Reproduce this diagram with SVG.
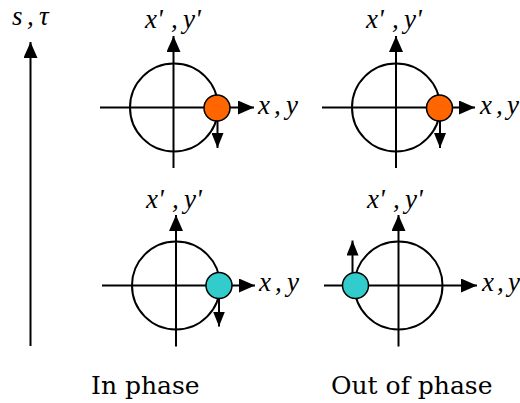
<svg xmlns="http://www.w3.org/2000/svg" width="520" height="403" viewBox="0 0 520 403">
<defs>
<style>
.ax{stroke:#000;stroke-width:2;fill:none}
.ci{stroke:#000;stroke-width:2;fill:none}
.or{fill:#FF6600;stroke:#000;stroke-width:1.5}
.tl{fill:#33CCCC;stroke:#000;stroke-width:1.5}
.it{font-family:"Liberation Serif","Times New Roman",serif;font-style:italic;font-size:27px;fill:#000}
.lb{font-family:"DejaVu Serif","Liberation Serif",serif;font-size:25px;fill:#000}
</style>
<marker id="ah" markerUnits="userSpaceOnUse" markerWidth="16" markerHeight="14" refX="16" refY="7" orient="auto">
<path d="M0,0 L16,7 L0,14 Z" fill="#000"/>
</marker>
<marker id="sh" markerUnits="userSpaceOnUse" markerWidth="15" markerHeight="12" refX="15" refY="6" orient="auto">
<path d="M0,0 L15,6 L0,12 Z" fill="#000"/>
</marker>
</defs>
<rect width="520" height="403" fill="#fff"/>
<g id="time-axis">
<line class="ax" x1="30.5" y1="346" x2="30.5" y2="42" marker-end="url(#ah)"/>
<text class="it" y="25"><tspan x="12">s</tspan><tspan x="27">,</tspan><tspan x="39">τ</tspan></text>
</g>
<g id="panel-top-left">
<circle class="ci" cx="174" cy="107.5" r="44"/>
<line class="ax" x1="100" y1="107.5" x2="254" y2="107.5" marker-end="url(#ah)"/>
<line class="ax" x1="173.5" y1="168" x2="173.5" y2="36" marker-end="url(#ah)"/>
<circle class="or" cx="217" cy="108" r="13"/>
<line class="ax" x1="217.5" y1="121" x2="217.5" y2="148" marker-end="url(#sh)"/>
<text class="it" y="28"><tspan x="145">x'</tspan><tspan x="171">,</tspan><tspan x="183">y'</tspan></text>
<text class="it" y="114"><tspan x="258">x</tspan><tspan x="274">,</tspan><tspan x="286">y</tspan></text>
</g>
<g id="panel-top-right">
<circle class="ci" cx="396" cy="107.5" r="44"/>
<line class="ax" x1="322" y1="107.5" x2="475" y2="107.5" marker-end="url(#ah)"/>
<line class="ax" x1="396" y1="168" x2="396" y2="36" marker-end="url(#ah)"/>
<circle class="or" cx="439.5" cy="108" r="13"/>
<line class="ax" x1="440" y1="121" x2="440" y2="148" marker-end="url(#sh)"/>
<text class="it" y="28"><tspan x="366">x'</tspan><tspan x="392">,</tspan><tspan x="404">y'</tspan></text>
<text class="it" y="114"><tspan x="480">x</tspan><tspan x="496">,</tspan><tspan x="507">y</tspan></text>
</g>
<g id="panel-bottom-left">
<circle class="ci" cx="176" cy="285.5" r="44"/>
<line class="ax" x1="102" y1="285.5" x2="255" y2="285.5" marker-end="url(#ah)"/>
<line class="ax" x1="176" y1="346.5" x2="176" y2="215" marker-end="url(#ah)"/>
<circle class="tl" cx="219" cy="285.5" r="13"/>
<line class="ax" x1="219" y1="298.5" x2="219" y2="326.5" marker-end="url(#sh)"/>
<text class="it" y="208"><tspan x="146">x'</tspan><tspan x="172">,</tspan><tspan x="184">y'</tspan></text>
<text class="it" y="291"><tspan x="259">x</tspan><tspan x="275">,</tspan><tspan x="287">y</tspan></text>
<text class="lb" x="91" y="394">In phase</text>
</g>
<g id="panel-bottom-right">
<circle class="ci" cx="398.5" cy="285.5" r="44"/>
<line class="ax" x1="324" y1="285.5" x2="477" y2="285.5" marker-end="url(#ah)"/>
<line class="ax" x1="398.5" y1="346.5" x2="398.5" y2="215" marker-end="url(#ah)"/>
<circle class="tl" cx="355.5" cy="285.5" r="13"/>
<line class="ax" x1="352.5" y1="273" x2="352.5" y2="240.5" marker-end="url(#sh)"/>
<text class="it" y="208"><tspan x="367">x'</tspan><tspan x="393">,</tspan><tspan x="405">y'</tspan></text>
<text class="it" y="291"><tspan x="482">x</tspan><tspan x="497">,</tspan><tspan x="508">y</tspan></text>
<text class="lb" x="331" y="394">Out of phase</text>
</g>
</svg>
